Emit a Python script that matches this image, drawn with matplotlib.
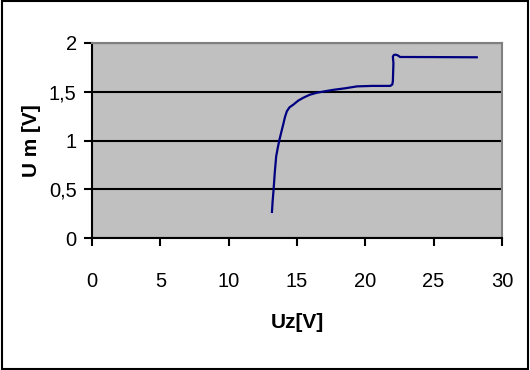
import matplotlib
matplotlib.use("Agg")
import matplotlib.pyplot as plt
from matplotlib.patches import Rectangle

# valeurs
uz = [13.17, 13.22, 13.29, 13.38, 13.48, 13.60, 13.72, 13.86, 14.02, 14.12, 14.26,
      14.45, 14.75, 15.10, 15.48, 15.95, 16.46, 17.05, 17.68, 18.50, 19.39,
      20.50, 21.83, 21.98, 22.02, 22.04, 22.06, 22.03, 22.02, 22.08, 22.19,
      22.35, 22.55, 25.0, 28.16]
um = [0.27, 0.38, 0.50, 0.68, 0.84, 0.93, 1.01, 1.09, 1.18, 1.24, 1.30,
      1.34, 1.37, 1.41, 1.44, 1.47, 1.49, 1.505, 1.52, 1.535, 1.555,
      1.56, 1.56, 1.575, 1.61, 1.70, 1.795, 1.84, 1.86, 1.875, 1.88,
      1.875, 1.856, 1.855, 1.853]

x_ticks = [0, 5, 10, 15, 20, 25, 30]
y_ticks = [0, 0.5, 1, 1.5, 2]
y_labels = ["0", "0,5", "1", "1,5", "2"]

plt.rcParams['font.family'] = ['Liberation Sans', 'DejaVu Sans']

fig = plt.figure(figsize=(5.3, 3.7), dpi=100)
ax = fig.add_axes([0.1736, 0.356, 0.7734, 0.528])
ax.set_facecolor("#c0c0c0")

ax.plot(uz, um, color="#000080", linewidth=1.6)

ax.set_xlim(0, 30)
ax.set_ylim(0, 2)
ax.set_xticks(x_ticks)
ax.set_yticks(y_ticks)
ax.set_yticklabels(y_labels)
ax.grid(axis="y", color="black", linewidth=1.5)
ax.set_axisbelow(True)

ax.tick_params(axis="x", direction="out", length=6, width=1.5, pad=18, labelsize=14.5)
ax.tick_params(axis="y", direction="out", length=6, width=1.5, pad=5, labelsize=14.5)

for s in ["left", "bottom"]:
    ax.spines[s].set_color("black")
    ax.spines[s].set_linewidth(1.5)
for s in ["top", "right"]:
    ax.spines[s].set_color("#808080")
    ax.spines[s].set_linewidth(1.5)

ax.set_xlabel("Uz[V]", fontsize=15, fontweight="bold", labelpad=16)
ax.set_ylabel("U m [V]", fontsize=15, fontweight="bold", labelpad=6)

fig.patches.append(Rectangle((0.003, 0.004), 0.994, 0.992, transform=fig.transFigure,
                             fill=False, edgecolor="black", linewidth=1.5))

fig.savefig("out.png", dpi=100)
